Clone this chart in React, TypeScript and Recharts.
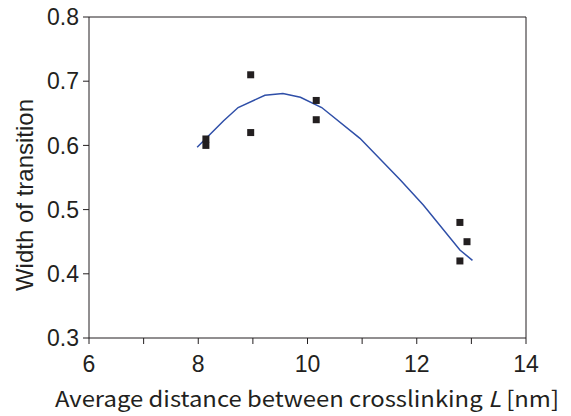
import React from 'react';
import { ScatterChart, Scatter, XAxis, YAxis, Label } from 'recharts';

// measured samples
const sampleL = [8.14, 8.14, 8.96, 8.96, 10.16, 10.16, 12.79, 12.92, 12.79];
const sampleWidth = [0.61, 0.6, 0.71, 0.62, 0.67, 0.64, 0.48, 0.45, 0.42];

// fitted curve
const fitL = [7.98, 8.46, 8.73, 9.22, 9.55, 9.87, 10.26, 10.96, 11.7, 12.12, 12.79, 13.02];
const fitWidth = [0.597, 0.638, 0.659, 0.678, 0.681, 0.675, 0.659, 0.611, 0.546, 0.507, 0.437, 0.421];

const xTicks = [6, 7, 8, 9, 10, 11, 12, 13, 14];
const yTicks = [0.3, 0.4, 0.5, 0.6, 0.7, 0.8];

const INK = '#231f20';
const BLUE = '#2f4fa8';
const SANS = '"Liberation Sans", Arial, sans-serif';
const GOTHIC = '"Noto Sans CJK JP", "Noto Sans", sans-serif';

const samples = sampleL.map((x, i) => ({ x, y: sampleWidth[i] }));
const fit = fitL.map((x, i) => ({ x, y: fitWidth[i] }));

const tickStyle = { fill: INK, fontSize: 23, fontFamily: SANS };

const Square = (props: any) => (
  <rect x={props.cx - 3.5} y={props.cy - 3.5} width={7} height={7} fill={INK} />
);

const XTitle = (props: any) => {
  const vb = props.viewBox;
  return (
    <text x={307} y={vb.y + 69} textAnchor="middle" fill={INK} fontSize={22} fontFamily={GOTHIC}
      textLength={504} lengthAdjust="spacingAndGlyphs">
      Average distance between crosslinking <tspan fontStyle="italic">L</tspan> [nm]
    </text>
  );
};

const YTitle = () => (
  <text x={33} y={195} transform="rotate(-90, 33, 195)" textAnchor="middle" fill={INK}
    fontSize={24} fontFamily={SANS}>
    Width of transition
  </text>
);

export default function App() {
  return (
    <div style={{ position: 'absolute', left: 0, top: 0, background: '#fff' }}>
      <ScatterChart width={571} height={416} margin={{ top: 17, right: 45, bottom: 0, left: 0 }}>
        <XAxis xAxisId="b" type="number" dataKey="x" domain={[6, 14]} ticks={xTicks} interval={0}
          tickFormatter={(v: number) => (v % 2 === 0 ? String(v) : '')}
          tick={tickStyle} tickSize={6} tickMargin={12} height={78} stroke={INK}>
          <Label content={<XTitle />} />
        </XAxis>
        <XAxis xAxisId="t" orientation="top" mirror type="number" dataKey="x" domain={[6, 14]}
          ticks={xTicks} interval={0} tickFormatter={() => ''} tickSize={6} height={30} stroke={INK} />
        <YAxis yAxisId="l" type="number" dataKey="y" domain={[0.3, 0.8]} ticks={yTicks} interval={0}
          tickFormatter={(v: number) => v.toFixed(1)} tick={tickStyle} tickSize={6} tickMargin={4}
          width={89} stroke={INK}>
          <Label content={<YTitle />} />
        </YAxis>
        <YAxis yAxisId="r" orientation="right" mirror type="number" dataKey="y" domain={[0.3, 0.8]}
          ticks={yTicks} interval={0} tickFormatter={() => ''} tickSize={6} width={30} stroke={INK} />
        <Scatter data={fit} xAxisId="b" yAxisId="l" line={{ stroke: BLUE, strokeWidth: 1.5 }}
          shape={() => <g />} isAnimationActive={false} />
        <Scatter data={samples} xAxisId="b" yAxisId="l" shape={Square} isAnimationActive={false} />
      </ScatterChart>
    </div>
  );
}
